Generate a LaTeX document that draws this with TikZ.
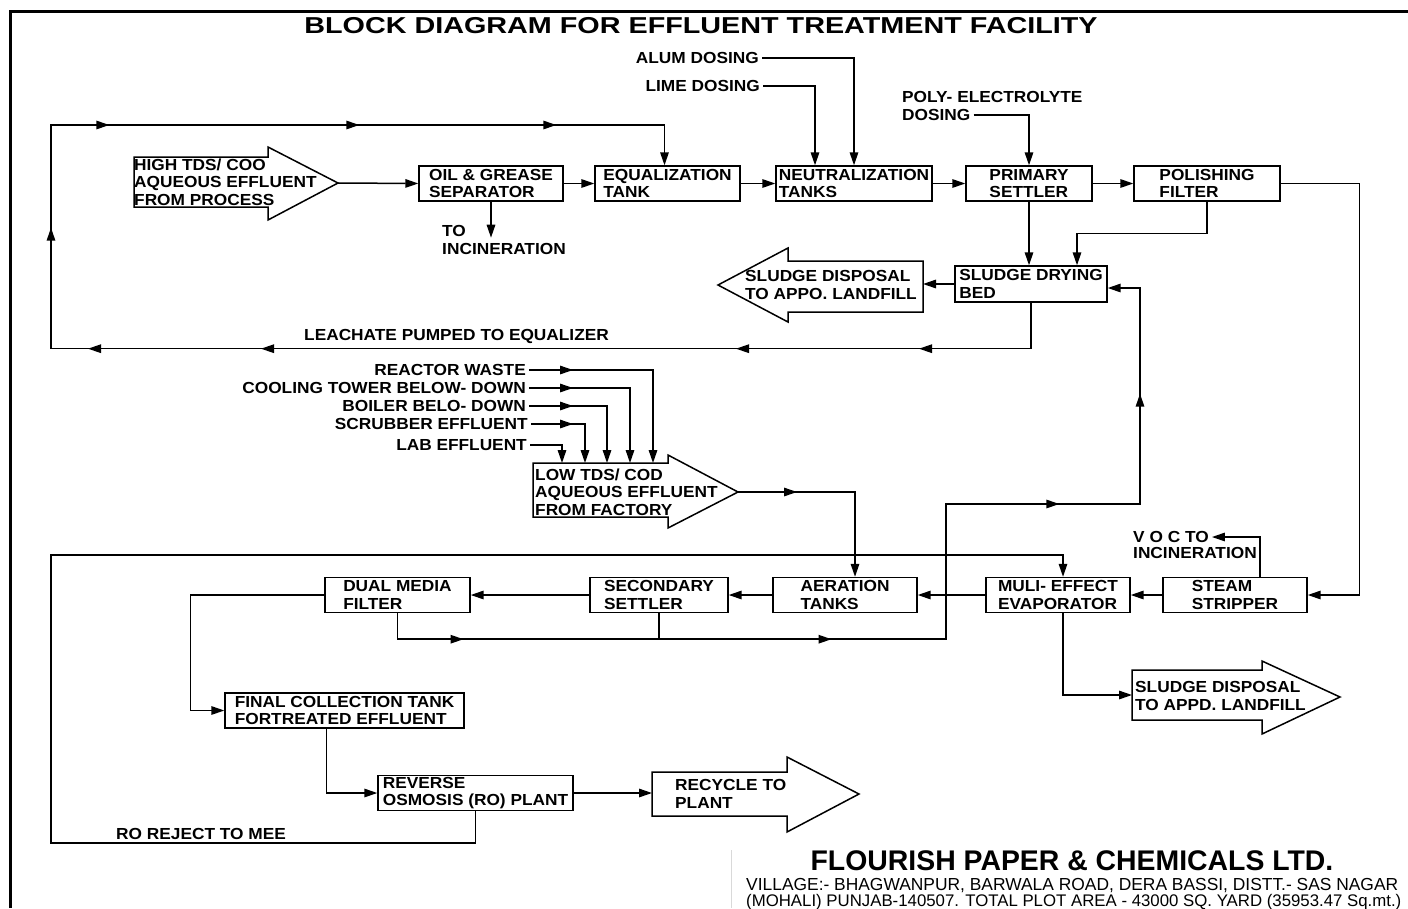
\documentclass[tikz,border=0pt]{standalone}
\usepackage{fontspec}
\setmainfont{Liberation Sans}[FakeStretch=1.08]
\newfontfamily\headfont{Liberation Sans}[FakeStretch=1.25]
\newfontfamily\firmfont{Liberation Sans}
\usetikzlibrary{calc, arrows.meta}
\usetikzlibrary{decorations.markings}

\tikzset{
  unit/.style={draw, rectangle, line width=1.4pt, minimum height=35pt, inner sep=1pt, align=left, font=\bfseries\fontsize{16}{17.5}\selectfont},
  lbl/.style={inner sep=3pt, align=left, font=\bfseries\fontsize{16}{17.5}\selectfont},
  pipe/.style={line width=1.5pt},
  tips/.style={postaction={decorate}, decoration={markings, #1}}
}
\pgfkeys{/pgf/decoration/tipat/.style={mark=at position #1 with {\arrow{Triangle[length=13pt,width=8.5pt]}}}}

\begin{document}
\begin{tikzpicture}[x=1pt, y=-1pt, >={Triangle[length=13pt,width=8.5pt]}]
    \useasboundingbox (0,0) rectangle (1408,908);

    % Frame and title
    \draw[line width=3pt] (10,908) -- (10,11) -- (1408,11);
    \node[font=\headfont\bfseries\fontsize{23}{25}\selectfont] (title) at (701,26) {BLOCK DIAGRAM FOR EFFLUENT TREATMENT FACILITY};

    % Upper treatment line
    \node[unit, minimum width=144pt] (oil) at (491,183.5) {OIL \& GREASE\\SEPARATOR};
    \node[unit, minimum width=145pt] (eq) at (667.5,183.5) {EQUALIZATION\\TANK};
    \node[unit, minimum width=156pt] (neut) at (854,183.5) {NEUTRALIZATION\\TANKS};
    \node[unit, minimum width=126pt] (prim) at (1029,183.5) {PRIMARY\\SETTLER};
    \node[unit, minimum width=146pt] (polish) at (1207,183.5) {POLISHING\\FILTER};
    \node[unit, minimum width=152pt, minimum height=36pt] (bed) at (1031,284) {SLUDGE DRYING\\BED};

    % Lower treatment line
    \node[unit, minimum width=145pt] (dual) at (397.5,595) {DUAL MEDIA\\FILTER};
    \node[unit, minimum width=138pt] (sec) at (659,595) {SECONDARY\\SETTLER};
    \node[unit, minimum width=144pt] (aer) at (845,595) {AERATION\\TANKS};
    \node[unit, minimum width=144pt] (evap) at (1058,595) {MULI- EFFECT\\EVAPORATOR};
    \node[unit, minimum width=144pt] (strip) at (1235,595) {STEAM\\STRIPPER};
    \node[unit, minimum width=239pt] (final) at (344.5,710.5) {FINAL COLLECTION TANK\\FORTREATED EFFLUENT};
    \node[unit, minimum width=195pt] (ro) at (475.5,793) {REVERSE\\OSMOSIS (RO) PLANT};

    % Block arrows
    \draw[pipe] (134,157) -- (268,157) -- (268,147) -- (338,183) -- (268,220) -- (268,207) -- (134,207) -- cycle;
    \node[lbl, anchor=west] (hitds) at (131,182) {HIGH TDS/ COO\\AQUEOUS EFFLUENT\\FROM PROCESS};
    \coordinate (hitds tip) at (338,183);

    \draw[pipe] (533,463) -- (668,463) -- (668,455) -- (738,492) -- (668,528) -- (668,517) -- (533,517) -- cycle;
    \node[lbl, anchor=west] (lotds) at (532,492) {LOW TDS/ COD\\AQUEOUS EFFLUENT\\FROM FACTORY};
    \coordinate (lotds tip) at (738,492);

    \draw[pipe] (923,261) -- (788,261) -- (788,248) -- (718,285) -- (788,322) -- (788,312) -- (923,312) -- cycle;
    \node[lbl, anchor=west] (sludgeL) at (742,285) {SLUDGE DISPOSAL\\TO APPO. LANDFILL};
    \coordinate (sludgeL in) at (923,284);

    \draw[pipe] (1132,670) -- (1262,670) -- (1262,661) -- (1340,697) -- (1262,734) -- (1262,720) -- (1132,720) -- cycle;
    \node[lbl, anchor=west] (sludgeR) at (1132,696) {SLUDGE DISPOSAL\\TO APPD. LANDFILL};
    \coordinate (sludgeR in) at (1132,695);

    \draw[pipe] (652,772) -- (787,772) -- (787,757) -- (859,794) -- (787,832) -- (787,816) -- (652,816) -- cycle;
    \node[lbl, anchor=west] (recyc) at (672,794) {RECYCLE TO\\PLANT};
    \coordinate (recyc in) at (652,793);

    % Dosing and side labels
    \node[lbl, anchor=east] (alum) at (762,58) {ALUM DOSING};
    \node[lbl, anchor=east] (lime) at (763,86) {LIME DOSING};
    \node[lbl, anchor=west] (poly) at (899,97) {POLY- ELECTROLYTE};
    \node[lbl, anchor=west] (polydos) at (899,115) {DOSING};
    \node[lbl] (toinc) at (504,240) {TO\\INCINERATION};
    \node[lbl, anchor=west] (voc) at (1130,537) {V O C TO};
    \node[lbl, anchor=west] (vocinc) at (1130,553) {INCINERATION};
    \node[lbl, anchor=west] (leach) at (301,336) {LEACHATE PUMPED TO EQUALIZER};
    \node[lbl] (reject) at (201,834) {RO REJECT TO MEE};

    % Low TDS sources
    \node[lbl, anchor=east] (react) at (529,370) {REACTOR WASTE};
    \node[lbl, anchor=east] (cool) at (529,388) {COOLING TOWER BELOW- DOWN};
    \node[lbl, anchor=east] (boil) at (529,406) {BOILER BELO- DOWN};
    \node[lbl, anchor=east] (scrub) at (531,424) {SCRUBBER EFFLUENT};
    \node[lbl, anchor=east] (lab) at (530,445) {LAB EFFLUENT};
    \coordinate (lt1) at (562,463);
    \coordinate (lt2) at (585,463);
    \coordinate (lt3) at (607,463);
    \coordinate (lt4) at (630,463);
    \coordinate (lt5) at (653,463);
    \draw[pipe, ->, tips={tipat=44pt}] (react.east) -| (lt5);
    \draw[pipe, ->, tips={tipat=44pt}] (cool.east) -| (lt4);
    \draw[pipe, ->, tips={tipat=44pt}] (boil.east) -| (lt3);
    \draw[pipe, ->, tips={tipat=42pt}] (scrub.east) -| (lt2);
    \draw[pipe, ->] (lab.east) -| (lt1);

    % Upper flow
    \draw[pipe, ->] (hitds tip) -- (oil.west);
    \draw[pipe, ->] (oil.east) -- (eq.west);
    \draw[pipe, ->] (eq.east) -- (neut.west);
    \draw[pipe, ->] (neut.east) -- (prim.west);
    \draw[pipe, ->] (prim.east) -- (polish.west);
    \draw[pipe, ->] (oil.south) -- ++(0,36);
    \draw[pipe, ->] (alum.east) -| (neut.north);
    \draw[pipe, ->] (lime.east) -| ([xshift=-39pt]neut.north);
    \draw[pipe, ->] (polydos.east) -| (prim.north);
    \draw[pipe, ->] (prim.south) -- (prim.south |- bed.north);
    \draw[pipe, ->] (polish.south) -- ++(0,32) -| ([xshift=46pt]bed.north);
    \draw[pipe, ->] (bed.west) -- (sludgeL in);
    \draw[pipe, ->, tips={tipat=158pt, tipat=341pt, tipat=816pt, tipat=989pt, tipat=1147pt, tipat=1308pt, tipat=1558pt, tipat=1755pt}]
        (bed.south) -- ++(0,46) -| (51,125) -| ([xshift=-3pt]eq.north);
    \draw[pipe, ->] (polish.east) -- ++(79,0) |- (strip.east);

    % Lower flow
    \draw[pipe, ->] (strip.west) -- (evap.east);
    \draw[pipe, ->] (evap.west) -- (aer.east);
    \draw[pipe, ->] (aer.west) -- (sec.east);
    \draw[pipe, ->] (sec.west) -- (dual.east);
    \draw[pipe, ->] ([xshift=25pt]strip.north) |- (voc.east);
    \draw[pipe, ->] ([xshift=5pt]evap.south) |- (sludgeR in);
    \draw[pipe, ->, tips={tipat=59pt}] (lotds tip) -| ([xshift=10pt]aer.north);
    \draw[pipe, ->, tips={tipat=92pt, tipat=460pt, tipat=823pt, tipat=1014pt}]
        (dual.south) -- ++(0,26) -| (946,504) -- (1140,504) |- ([yshift=-4pt]bed.east);
    \draw[pipe] (sec.south) -- ++(0,26);
    \draw[pipe, ->] (dual.west) -- ++(-134,0) |- (final.west);
    \draw[pipe, ->] ([xshift=-18pt]final.south) |- (ro.west);
    \draw[pipe, ->] (ro.east) -- (recyc in);
    \draw[pipe, ->] (ro.south) -- ++(0,32) -| (51,555) -| ([xshift=5pt]evap.north);

    % Company block
    \draw[black!15, line width=1pt] (731,850) -- (731,908);
    \node[font=\firmfont\bfseries\fontsize{28.4}{30}\selectfont] (firm) at (1072,861) {FLOURISH PAPER \& CHEMICALS LTD.};
    \node[anchor=west, inner sep=0pt, font=\firmfont\fontsize{17.4}{18}\selectfont] (addr1) at (746,886) {VILLAGE:- BHAGWANPUR, BARWALA ROAD, DERA BASSI, DISTT.- SAS NAGAR};
    \node[anchor=west, inner sep=0pt, font=\firmfont\fontsize{16.8}{18}\selectfont] (addr2) at (746,902) {(MOHALI) PUNJAB-140507. TOTAL PLOT AREA - 43000 SQ. YARD (35953.47 Sq.mt.)};
\end{tikzpicture}
\end{document}
